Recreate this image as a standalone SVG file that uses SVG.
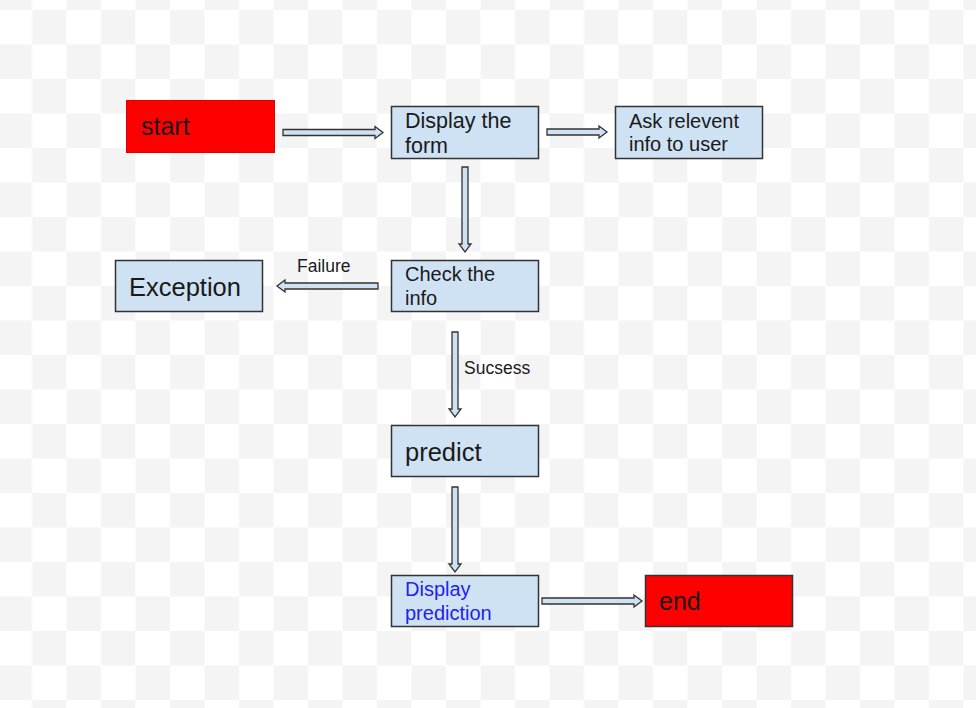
<svg xmlns="http://www.w3.org/2000/svg" width="976" height="708" viewBox="0 0 976 708">
<style>
.box{fill:#cfe2f3;stroke:#333;stroke-width:1.5}
.red{fill:#ff0000;stroke:#e00000;stroke-width:1}
.arr{fill:#cfe2f3;stroke:#333;stroke-width:1.3;stroke-linejoin:miter}
text{font-family:"Liberation Sans",Arial,sans-serif;fill:#1a1a1a}
.lbl{font-size:17.5px}
.blue{fill:#2222ee}
</style>
<defs>
<pattern id="chk" x="-2.5" y="10" width="69" height="69" patternUnits="userSpaceOnUse">
<rect x="0" y="0" width="69" height="69" fill="#ffffff"/>
<rect x="34.5" y="0" width="34.5" height="34.5" fill="#f4f4f4"/>
<rect x="0" y="34.5" width="34.5" height="34.5" fill="#f4f4f4"/>
</pattern>
</defs>
<rect x="0" y="0" width="976" height="708" fill="url(#chk)"/>
<g id="connectors">
<path class="arr" d="M283,129.5 H375 V126.5 L383,132.5 L375,138.5 V135.5 H283 Z"/>
<path class="arr" d="M547,129 H599 V126 L607,132 L599,138 V135 H547 Z"/>
<path class="arr" d="M462,167 V244 H459 L465,252 L471,244 H468 V167 Z"/>
<path class="arr" d="M378,283 H285 V280 L277,286 L285,292 V289 H378 Z"/>
<path class="arr" d="M452,332 V409 H449 L455,417 L461,409 H458 V332 Z"/>
<path class="arr" d="M452,487 V564 H449 L455,572 L461,564 H458 V487 Z"/>
<path class="arr" d="M542,598 H634 V595 L642,601 L634,607 V604 H542 Z"/>
<text class="lbl" x="297" y="272">Failure</text>
<text class="lbl" x="464" y="374">Sucsess</text>
</g>
<g id="start">
<rect class="red" x="126.5" y="100.5" width="148" height="52"/>
<text x="141" y="135" font-size="25">start</text>
</g>
<g id="display-form">
<rect class="box" x="391.5" y="106.5" width="147" height="52"/>
<text x="405" y="128" font-size="21.5">Display the</text>
<text x="405" y="153" font-size="21.5">form</text>
</g>
<g id="ask-info">
<rect class="box" x="615.5" y="106.5" width="147" height="52"/>
<text x="629" y="128" font-size="20">Ask relevent</text>
<text x="629" y="151" font-size="20">info to user</text>
</g>
<g id="check-info">
<rect class="box" x="391.5" y="260.5" width="147" height="51"/>
<text x="405" y="281" font-size="20">Check the</text>
<text x="405" y="305" font-size="20">info</text>
</g>
<g id="exception">
<rect class="box" x="115.5" y="260.5" width="147" height="51"/>
<text x="129" y="296" font-size="25.5">Exception</text>
</g>
<g id="predict">
<rect class="box" x="391.5" y="425.5" width="147" height="51"/>
<text x="405" y="461" font-size="25.5">predict</text>
</g>
<g id="display-prediction">
<rect class="box" x="391.5" y="575.5" width="147" height="51"/>
<text class="blue" x="405" y="596" font-size="20">Display</text>
<text class="blue" x="405" y="620" font-size="20">prediction</text>
</g>
<g id="end">
<rect class="box" x="645.5" y="575.5" width="147" height="51" style="fill:#ff0000;stroke:#333"/>
<text x="659" y="610" font-size="25">end</text>
</g>
</svg>
